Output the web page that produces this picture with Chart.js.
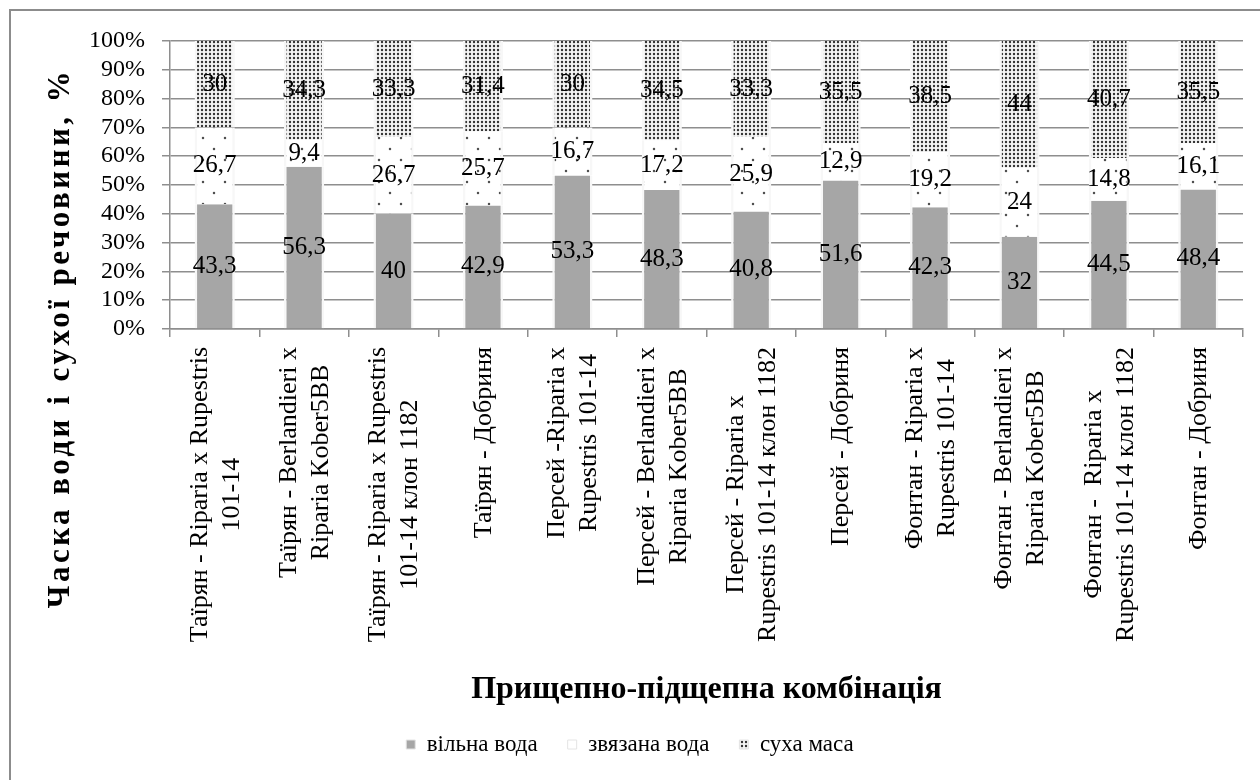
<!DOCTYPE html>
<html lang="uk">
<head>
<meta charset="utf-8">
<title>Частка води і сухої речовини</title>
<script src="https://cdn.jsdelivr.net/npm/chart.js@4.4.1/dist/chart.umd.min.js"></script>
<style>
  html, body { margin: 0; padding: 0; background: #fff; overflow: hidden; }
  #wrap { width: 1260px; height: 780px; }
</style>
</head>
<body>
<div id="wrap"><canvas id="chart" width="1260" height="780"></canvas></div>
<script>
// Прищепно-підщепні комбінації (рядки підпису по осі X)
const categories = [
  ['Таїрян - Riparia x Rupestris', '101-14'],
  ['Таїрян - Berlandieri x', 'Riparia Kober5BB'],
  ['Таїрян - Riparia x Rupestris', '101-14 клон 1182'],
  ['Таїрян - Добриня'],
  ['Персей -Riparia x', 'Rupestris 101-14'],
  ['Персей - Berlandieri x', 'Riparia Kober5BB'],
  ['Персей - Riparia x', 'Rupestris 101-14 клон 1182'],
  ['Персей - Добриня'],
  ['Фонтан - Riparia x', 'Rupestris 101-14'],
  ['Фонтан - Berlandieri x', 'Riparia Kober5BB'],
  ['Фонтан -  Riparia x', 'Rupestris 101-14 клон 1182'],
  ['Фонтан - Добриня']
];

const seriesNames = ['вільна вода', 'звязана вода', 'суха маса'];

// Частки, %
const freeWater  = [43.3, 56.3, 40, 42.9, 53.3, 48.3, 40.8, 51.6, 42.3, 32, 44.5, 48.4];
const boundWater = [26.7, 9.4, 26.7, 25.7, 16.7, 17.2, 25.9, 12.9, 19.2, 24, 14.8, 16.1];
const dryMatter  = [30, 34.3, 33.3, 31.4, 30, 34.5, 33.3, 35.5, 38.5, 44, 40.7, 35.5];

const yTicks = [0, 10, 20, 30, 40, 50, 60, 70, 80, 90, 100];

const yTitle = 'Часка води і сухої речовини, %';
const xTitle = 'Прищепно-підщепна комбінація';

const SERIF = "'Liberation Serif', 'Times New Roman', serif";
const GRID = '#8e8e8e';

// Візерунки заливки
function dotPattern(size, bg, dots, color, r) {
  const c = document.createElement('canvas');
  c.width = size; c.height = size;
  const g = c.getContext('2d');
  g.fillStyle = bg;
  g.fillRect(0, 0, size, size);
  g.fillStyle = color;
  dots.forEach(([x, y]) => { g.beginPath(); g.arc(x, y, r, 0, Math.PI * 2); g.fill(); });
  return g.createPattern(c, 'repeat');
}
const sparseDots = dotPattern(22, '#ffffff', [[5, 6], [16, 17]], '#505050', 1.25);
const denseDots  = dotPattern(4, '#f5f5f5', [[2, 2]], '#333333', 1.2);

const fmt = v => String(v).replace('.', ',');

// Рамка, заголовок осі Y та підписи категорій
const decor = {
  id: 'decor',
  beforeDraw(chart) {
    const ctx = chart.ctx;
    ctx.save();
    ctx.fillStyle = '#fff';
    ctx.fillRect(0, 0, chart.width, chart.height);
    ctx.strokeStyle = '#8c8c8c';
    ctx.lineWidth = 2;
    ctx.beginPath();
    ctx.moveTo(10, chart.height + 5);
    ctx.lineTo(10, 10);
    ctx.lineTo(chart.width + 5, 10);
    ctx.stroke();
    ctx.restore();
  },
  afterDraw(chart) {
    const ctx = chart.ctx;
    const xs = chart.scales.x;
    ctx.save();
    // заголовок осі Y
    ctx.fillStyle = '#000';
    ctx.font = 'bold 31px ' + SERIF;
    ctx.letterSpacing = '3.5px';
    ctx.textAlign = 'center';
    ctx.textBaseline = 'middle';
    ctx.translate(61, 338);
    ctx.rotate(-Math.PI / 2);
    ctx.fillText(yTitle, 0, 0);
    ctx.restore();

    // підписи категорій, повернуті на 90°
    ctx.save();
    ctx.fillStyle = '#000';
    ctx.font = '26px ' + SERIF;
    ctx.textAlign = 'center';
    ctx.textBaseline = 'middle';
    const lh = 32;
    const top = xs.top + 18;
    categories.forEach((lines, i) => {
      const cx = xs.getPixelForValue(i);
      const maxW = Math.max(...lines.map(l => ctx.measureText(l).width));
      const cy = top + maxW / 2;
      lines.forEach((line, j) => {
        ctx.save();
        ctx.translate(cx + 1 + (j - (lines.length - 1) / 2) * lh, cy);
        ctx.rotate(-Math.PI / 2);
        ctx.fillText(line, 0, 0);
        ctx.restore();
      });
    });
    ctx.restore();
  }
};

// Значення в центрі кожного сегмента
const valueLabels = {
  id: 'valueLabels',
  afterDatasetsDraw(chart) {
    const ctx = chart.ctx;
    ctx.save();
    ctx.fillStyle = '#000';
    ctx.font = '25px ' + SERIF;
    ctx.textAlign = 'center';
    ctx.textBaseline = 'middle';
    chart.data.datasets.forEach((ds, di) => {
      chart.getDatasetMeta(di).data.forEach((el, i) => {
        ctx.fillText(fmt(ds.data[i]), el.x, (el.y + el.base) / 2);
      });
    });
    ctx.restore();
  }
};

// Висота легенди
const LEGEND_HEIGHT = 77;
const legendHeight = {
  id: 'legendHeight',
  beforeLayout(chart) {
    const lg = chart.legend;
    if (lg && !lg._fixedFit) {
      const orig = lg.fit.bind(lg);
      lg.fit = function () { orig(); this.height = LEGEND_HEIGHT; };
      lg._fixedFit = true;
    }
  }
};

const barStyle = {
  borderColor: '#f7f7f7',
  borderWidth: { left: 2.5, right: 2.5, top: 0, bottom: 0 },
  borderSkipped: false,
  barPercentage: 0.45,
  categoryPercentage: 1.0
};

new Chart(document.getElementById('chart'), {
  type: 'bar',
  data: {
    labels: categories,
    datasets: [
      Object.assign({ label: seriesNames[0], data: freeWater,  backgroundColor: '#a6a6a6' }, barStyle),
      Object.assign({ label: seriesNames[1], data: boundWater, backgroundColor: sparseDots }, barStyle),
      Object.assign({ label: seriesNames[2], data: dryMatter,  backgroundColor: denseDots }, barStyle)
    ]
  },
  options: {
    responsive: false,
    animation: false,
    devicePixelRatio: 1,
    layout: { padding: { left: 17, right: 17, top: 41, bottom: 0 } },
    plugins: {
      tooltip: { enabled: false },
      legend: {
        position: 'bottom',
        labels: {
          font: { family: SERIF, size: 23 },
          color: '#000',
          boxWidth: 9,
          boxHeight: 9,
          padding: 30,
          generateLabels(chart) {
            const items = Chart.defaults.plugins.legend.labels.generateLabels(chart);
            items.forEach(it => { it.strokeStyle = '#e4e4e4'; it.lineWidth = 1; });
            return items;
          }
        }
      }
    },
    scales: {
      x: {
        stacked: true,
        afterFit(s) { s.height = 374; },
        ticks: { display: false },
        grid: { drawOnChartArea: false, drawTicks: true, tickLength: 8, color: GRID, lineWidth: 1.5, offset: true },
        border: { color: GRID, width: 1.5 },
        title: {
          display: true,
          text: xTitle,
          color: '#000',
          font: { family: SERIF, size: 32, weight: 'bold', lineHeight: 1.0 },
          padding: { top: 0, bottom: -3 }
        }
      },
      y: {
        stacked: true,
        min: 0,
        max: 100,
        afterFit(s) { s.width = 153; },
        afterBuildTicks(s) { s.ticks = yTicks.map(v => ({ value: v })); },
        ticks: {
          color: '#000',
          font: { family: SERIF, size: 24 },
          padding: 17,
          autoSkip: false,
          callback: v => v + '%'
        },
        grid: { color: GRID, lineWidth: 1.5, tickLength: 8 },
        border: { color: GRID, width: 1.5 }
      }
    }
  },
  plugins: [decor, valueLabels, legendHeight]
});
</script>
</body>
</html>
